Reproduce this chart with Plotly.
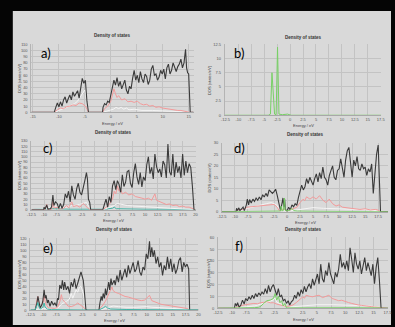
import plotly.graph_objects as go

W, H = 395, 327

# ---------------- data (energy eV, DOS states/eV) ----------------
A_TOTAL = [(-15.3,0),(-10.9,0),(-10.6,8),(-10.3,15),(-10.0,9),(-9.7,17),(-9.4,10),(-9.1,20),(-8.8,25),(-8.5,15),(-8.2,22),(-7.9,28),(-7.6,20),(-7.3,33),(-7.0,26),(-6.7,31),(-6.4,35),(-6.1,23),(-5.8,42),(-5.5,55),(-5.2,47),(-4.9,52),(-4.6,18),(-4.3,0),(-1.6,0),
           (-1.5,8),(-1.2,14),(-0.9,12),(-0.6,18),(-0.3,16),(0.0,28),(0.3,40),(0.6,52),(0.9,44),(1.2,56),(1.5,42),(1.8,50),(2.1,38),(2.4,46),(2.7,52),(3.0,36),(3.3,30),(3.6,42),(3.9,38),(4.2,55),(4.5,68),(4.8,52),(5.1,60),(5.4,48),(5.7,66),(6.0,54),(6.3,48),(6.6,62),(6.9,58),(7.2,45),(7.5,52),(7.8,70),(8.1,76),(8.4,60),(8.7,62),(9.0,52),(9.3,57),(9.6,68),(9.9,62),(10.2,70),(10.5,54),(10.8,72),(11.1,78),(11.4,62),(11.7,68),(12.0,80),(12.3,72),(12.6,66),(12.9,74),(13.2,78),(13.5,86),(13.8,72),(14.1,80),(14.4,102),(14.6,72),(14.8,64),(15.0,62),(15.15,25),(15.3,0),(15.95,0)]
A_RED = [(-15.3,0),(-10.9,0),(-10.3,4),(-9.7,7),(-9.1,6),(-8.5,9),(-7.9,10),(-7.3,12),(-6.7,11),(-6.1,15),(-5.5,14),(-4.9,10),(-4.5,4),(-4.3,0),(-1.6,0),(-1.2,6),(-0.6,10),(0.0,18),(0.3,28),(0.6,38),(0.9,30),(1.2,24),(1.5,27),(2.1,20),(2.7,22),(3.3,17),(3.9,18),(4.5,16),(5.1,18),(5.7,14),(6.3,12),(6.9,13),(7.5,10),(8.1,11),(8.7,8),(9.3,9),(9.9,7),(10.5,6),(11.1,5),(11.7,4.5),(12.3,4),(12.9,3),(13.5,3),(14.1,2),(14.7,2),(15.2,0),(15.95,0)]
A_WHITE = [(-15.3,0),(-10.9,0),(-10.0,3),(-9.0,6),(-8.0,10),(-7.0,14),(-6.4,18),(-5.8,26),(-5.4,32),(-5.0,36),(-4.8,28),(-4.5,10),(-4.3,0),(-1.6,0),(-0.5,3),(0.5,5),(1.0,8),(1.5,6),(2.0,8),(2.5,5),(3.0,7),(3.5,4),(4.5,5),(6.0,3),(8.0,3),(10.0,2),(12.0,2),(14.0,1),(15.2,0),(15.95,0)]

B_GREEN = [(-12.6,0),(-4.2,0),(-3.8,0.2),(-3.5,7.5),(-3.0,0.2),(-2.7,0.1),(-2.43,12),(-2.15,0.2),(-1.5,0.1),(-0.5,0.2),(0.2,0),(17.6,0)]

C_TOTAL = [(-12.5,0),(-10.1,0),(-9.98,5),(-9.8,1),(-9.47,9),(-9.2,1),(-8.7,2),(-8.5,6),(-8.24,28),(-8.05,8),(-7.73,15),(-7.4,12),(-7.08,3),(-6.76,12),(-6.44,3),(-6.11,10),(-5.79,30),(-5.47,22),(-5.15,35),(-4.82,15),(-4.5,45),(-4.18,28),(-3.85,20),(-3.53,40),(-3.21,50),(-2.89,33),(-2.56,28),(-2.24,45),(-1.92,55),(-1.6,70),(-1.4,58),(-1.21,20),(-0.95,14),(-0.76,0),(1.63,0),
           (1.95,10),(2.27,20),(2.6,5),(2.92,25),(3.24,14),(3.56,45),(3.89,55),(4.21,38),(4.53,55),(4.85,48),(5.18,33),(5.5,66),(5.82,44),(6.15,52),(6.47,72),(6.79,74),(7.11,50),(7.44,42),(7.76,70),(8.08,87),(8.4,62),(8.73,48),(9.05,70),(9.37,43),(9.69,62),(10.02,55),(10.34,85),(10.66,100),(10.98,68),(11.31,80),(11.63,58),(11.95,105),(12.27,82),(12.6,70),(12.92,77),(13.24,62),(13.56,92),(13.89,85),(14.21,60),(14.53,124),(14.85,72),(15.18,65),(15.5,105),(15.82,62),(16.15,90),(16.47,70),(16.79,82),(17.11,60),(17.44,105),(17.76,65),(18.08,92),(18.4,70),(18.73,87),(19.05,80),(19.37,45),(19.69,0),(20.0,0)]
C_RED = [(-12.5,0),(-9.8,0),(-9.47,10),(-9.2,0),(-8.5,0),(-8.24,18),(-8.0,3),(-7.4,5),(-7.0,0),(-6.1,3),(-5.5,8),(-5.15,4),(-4.5,15),(-4.2,6),(-3.5,8),(-2.9,5),(-2.24,12),(-1.9,8),(-1.4,4),(-0.8,0),(1.63,0),(2.3,5),(2.9,10),(3.56,20),(3.89,35),(4.21,30),(4.53,45),(4.85,35),(5.18,38),(5.5,30),(6.15,33),(6.79,28),(7.44,30),(8.08,25),(8.73,24),(9.37,22),(10.02,20),(10.66,22),(11.31,18),(11.95,30),(12.27,18),(12.92,15),(13.56,12),(14.21,10),(14.85,11),(15.5,8),(16.15,9),(16.79,6),(17.44,7),(18.08,5),(18.73,5),(19.37,2),(19.69,0),(20.0,0)]
C_WHITE = [(-12.5,0),(-9.5,2),(-8.2,8),(-6.0,4),(-4.5,8),(-3.0,10),(-1.6,14),(-1.2,6),(-0.8,0),(1.6,0),(2.5,3),(3.9,8),(4.5,12),(5.5,10),(6.5,8),(8.0,7),(10.0,6),(12.0,5),(14.0,4),(16.0,3),(18.0,2),(19.6,0),(20.0,0)]
C_TEAL = [(-12.5,0.5),(-9.5,1),(-8.2,2),(-5.0,1),(-1.0,0.5),(2.0,1),(3.6,3),(3.9,5),(4.3,2),(6.0,1.5),(10.0,1),(15.0,0.8),(20.0,0.5)]

D_TOTAL = [(-12.5,0),(-9.8,0),(-9.69,1.5),(-9.5,0.5),(-9.25,1.7),(-9.06,0.5),(-8.75,1.2),(-8.44,2),(-8.2,0.5),(-7.81,3),(-7.625,5.5),(-7.375,3),(-7.19,5.3),(-6.875,3.8),(-6.56,5.5),(-6.25,4.5),(-5.94,6),(-5.625,5),(-5.31,6.4),(-5.0,5.2),(-4.69,7.4),(-4.375,6.4),(-4.06,8),(-3.75,6.7),(-3.44,9.5),(-3.125,8.8),(-2.81,8),(-2.5,8.8),(-2.19,9.8),(-1.875,7),(-1.56,3.5),(-1.25,0.5),(-0.94,4),(-0.78,6),(-0.625,2),(-0.47,5.5),(-0.31,1),(0.0,0.3),
           (0.31,2),(0.625,0.8),(0.94,3),(1.25,2.2),(1.56,3.5),(1.875,2.8),(2.19,6.3),(2.5,8.8),(2.81,11.6),(3.125,9.5),(3.44,10.9),(3.75,14.4),(4.06,12.3),(4.375,15),(4.69,13),(5.0,11.6),(5.31,14.4),(5.625,16.5),(5.94,13),(6.25,17),(6.56,14.4),(6.875,19.4),(7.19,15),(7.5,13.9),(7.81,11.6),(8.125,15.8),(8.44,18),(8.75,20),(9.06,15),(9.375,13.9),(9.69,18),(10.0,18.7),(10.31,23),(10.625,18),(10.94,15),(11.25,22.5),(11.56,26.5),(11.875,28),(12.19,21),(12.5,15),(12.81,22.5),(13.125,20),(13.44,24),(13.75,18.7),(14.06,18),(14.375,20.8),(14.69,18.7),(15.0,19.4),(15.31,15.8),(15.625,18.7),(15.94,17.3),(16.25,20.8),(16.56,8),(16.875,18),(17.19,25),(17.5,29),(17.81,3),(17.95,0),(19.4,0)]
D_RED = [(-12.5,0),(-9.8,0),(-9.5,0.8),(-8.5,1),(-7.6,2),(-6.5,2.2),(-5.5,2.5),(-4.5,2.8),(-3.4,3),(-2.5,3.2),(-1.9,2),(-1.5,0.5),(-0.9,1),(-0.5,1.2),(0.0,0.3),(0.6,0.8),(1.3,1.5),(1.9,2),(2.5,4),(3.1,5.5),(3.4,4.8),(3.75,6.5),(4.4,5.5),(5.0,6.5),(5.6,5.5),(6.25,7),(6.9,5),(7.5,4),(8.1,5.5),(8.75,3.5),(9.4,2.5),(10.0,3),(10.6,2),(11.3,1.8),(12.0,1.5),(13.0,1.2),(14.0,1),(15.0,1.3),(16.0,0.8),(17.0,1),(17.5,0.7),(17.9,0),(19.4,0)]
D_WHITE = [(-12.5,0),(-9.8,0),(-7.6,1.5),(-6.0,2.5),(-4.0,3.5),(-3.0,4),(-2.0,3),(-1.5,1),(-1.0,0.5),(0.0,0.2),(1.5,0.6),(3.0,1.2),(5.0,1.8),(7.0,1.5),(10.0,1.2),(13.0,1),(16.0,0.8),(17.8,0.2),(19.4,0)]
D_GREEN = [(-12.5,0),(-9.8,0),(-9.7,0.2),(-5.0,0.2),(-1.5,0.3),(-1.25,0.3),(-1.125,2.4),(-0.95,0.4),(-0.7,0.6),(-0.5,6),(-0.35,0.8),(-0.2,0.4),(0.5,0.5),(0.9,1.5),(1.3,0.5),(2.0,0.3),(5.0,0.2),(17.8,0.2),(17.9,0),(19.4,0)]

E_TOTAL = [(-12.5,0),(-11.6,0),(-11.24,12),(-11.05,23),(-10.86,15),(-10.61,4),(-10.29,9),(-10.1,15),(-9.85,34),(-9.66,20),(-9.47,25),(-9.22,12),(-9.03,17),(-8.71,6.5),(-8.4,15),(-8.08,9),(-7.77,12),(-7.45,6.5),(-7.26,20),(-7.07,17.5),(-6.82,42),(-6.51,36),(-6.32,50),(-6.06,34),(-5.88,47),(-5.56,34),(-5.24,40),(-4.93,28),(-4.61,47),(-4.3,39),(-3.98,53),(-3.67,36),(-3.35,45),(-3.04,53),(-2.72,64),(-2.53,58),(-2.28,50),(-2.09,34),(-1.77,1),(-1.5,0),(0.75,0),
           (0.94,12),(1.19,23),(1.38,16),(1.57,28),(1.82,20),(2.01,36),(2.2,25),(2.45,42),(2.64,47),(2.83,34),(3.08,53),(3.27,42),(3.46,45),(3.71,50),(3.9,42),(4.22,58),(4.53,47),(4.85,67),(5.17,50),(5.48,61),(5.8,69),(6.11,55),(6.43,75),(6.74,61),(7.06,72),(7.37,80),(7.69,64),(8.0,69),(8.32,83),(8.64,64),(8.95,58),(9.27,72),(9.58,67),(9.9,94),(10.21,86),(10.53,115),(10.72,89),(10.97,105),(11.22,89),(11.47,100),(11.79,78),(12.11,89),(12.42,72),(12.74,80),(13.05,58),(13.37,75),(13.68,67),(14.0,89),(14.31,69),(14.63,86),(14.94,64),(15.26,78),(15.58,61),(15.89,69),(16.21,83),(16.52,88),(16.84,64),(17.15,80),(17.47,72),(17.78,77),(18.1,69),(18.29,0),(20.0,0)]
E_RED = [(-12.5,0),(-11.6,0),(-11.24,17),(-11.05,23),(-10.86,10),(-10.61,4),(-10.1,12),(-9.85,24),(-9.66,15),(-9.47,10),(-9.03,4),(-8.4,4),(-7.77,3),(-7.26,5),(-7.07,9),(-6.82,14),(-6.51,26),(-6.32,18),(-5.88,14),(-5.24,7),(-4.61,6),(-3.98,8),(-3.35,12),(-3.04,10),(-2.72,9),(-2.28,6),(-2.09,4),(-1.77,0),(0.75,0),(1.0,4),(1.38,7),(2.01,15),(2.64,28),(3.08,35),(3.27,39),(3.46,33),(3.9,30),(4.53,28),(5.17,25),(5.8,23),(6.43,22),(7.06,20),(7.69,18),(8.32,17),(8.95,16),(9.58,17),(10.21,22),(10.53,25),(10.97,16),(11.47,14),(12.11,12),(12.74,10),(13.37,9),(14.0,8),(14.63,7),(15.26,6),(15.89,5),(16.52,4),(17.15,4),(17.78,3),(18.29,0),(20.0,0)]
E_TEAL = [(-12.5,0.5),(-11.6,0.5),(-11.24,8),(-11.05,13),(-10.86,6),(-10.61,2),(-10.1,5),(-9.85,12),(-9.66,5),(-9.22,2),(-8.4,1),(-7.5,0.8),(-6.5,1.5),(-5.5,1),(-4.0,1),(-2.0,0.8),(-1.7,0.3),(0.75,0.3),(1.2,2),(1.6,4),(2.0,6.5),(2.4,4),(3.0,2),(4.0,1.5),(6.0,1.2),(9.0,1),(12.0,0.8),(15.0,0.6),(18.0,0.5),(20.0,0.5)]
E_WHITE = [(-12.5,0),(-11.6,0),(-11.0,2),(-10.0,3),(-9.0,3),(-8.0,2),(-7.0,5),(-6.5,10),(-6.0,12),(-5.5,15),(-5.0,18),(-4.6,28),(-4.3,20),(-3.67,34),(-3.35,30),(-3.04,38),(-2.72,40),(-2.4,32),(-2.1,20),(-1.77,0),(0.75,0),(1.5,2),(2.5,5),(3.5,7),(4.5,6),(6.0,5),(8.0,5),(10.0,6),(11.0,5),(13.0,4),(15.0,3),(17.0,2),(18.29,0),(20.0,0)]

F_TOTAL = [(-12.5,0),(-9.61,0),(-9.44,4.1),(-9.21,1.9),(-9.04,4.7),(-8.75,0.8),(-8.46,2.8),(-8.17,6.9),(-7.88,3.6),(-7.6,8.3),(-7.31,6.4),(-7.02,9.7),(-6.73,7.5),(-6.44,11),(-6.15,8.3),(-5.86,12.4),(-5.58,9.7),(-5.29,13),(-5.0,11),(-4.71,13.8),(-4.42,11.9),(-4.13,16.6),(-3.84,12.4),(-3.56,19.3),(-3.27,13.8),(-2.98,18),(-2.69,20),(-2.4,15.2),(-2.11,11),(-1.82,16.6),(-1.54,9.7),(-1.25,11),(-0.96,6.4),(-0.67,7.5),(-0.38,4.1),(-0.09,6.4),(0.19,2.8),(0.48,5.5),(0.77,6.9),
           (1.06,11),(1.35,8.3),(1.64,13.8),(1.93,10.2),(2.21,15.8),(2.5,12.4),(2.79,18.5),(3.08,13.8),(3.37,18),(3.66,20.7),(3.95,16.6),(4.23,24.9),(4.52,19.3),(4.81,23.5),(5.1,29),(5.39,20.7),(5.68,37.3),(5.97,24.9),(6.25,22.1),(6.54,31.8),(6.83,27.6),(7.12,38.7),(7.41,29),(7.7,24.9),(7.99,20.7),(8.27,30.4),(8.56,26.3),(8.85,33.2),(9.14,45.6),(9.43,34.6),(9.72,38.7),(10.0,33.2),(10.29,40.1),(10.58,31.8),(10.87,51.1),(11.16,41.5),(11.45,30.4),(11.74,46.9),(12.02,37.3),(12.31,33.2),(12.6,40.1),(12.89,29),(13.18,35.9),(13.47,42.9),(13.76,31.8),(14.04,38.7),(14.33,33.2),(14.62,27.6),(14.91,37.3),(15.2,20.7),(15.49,34.6),(15.78,42.9),(16.07,23.5),(16.36,0),(17.6,0)]
F_RED = [(-12.5,0),(-9.61,0),(-9.04,1.4),(-8.5,2.2),(-7.88,2.8),(-7.0,3.5),(-6.15,4.1),(-5.5,3.8),(-5.0,4.7),(-4.4,5),(-3.84,5.5),(-3.2,4.6),(-2.69,4.7),(-2.1,3.5),(-1.54,2.8),(-0.9,2),(-0.38,1.4),(0.2,2),(0.77,2.8),(1.4,5),(1.93,6.9),(2.5,9.7),(2.8,8.5),(3.08,11),(3.66,10.2),(4.23,9.7),(4.8,10.5),(5.39,11),(6.0,9),(6.54,9.7),(7.12,11),(7.7,8.3),(8.3,7.5),(8.85,6.4),(9.4,6.8),(10.0,5.5),(10.6,4.8),(11.16,4.1),(11.7,3.2),(12.31,2.8),(12.9,2.4),(13.47,1.9),(14.0,1.7),(14.62,1.4),(15.2,1.1),(15.78,0.8),(16.36,0),(17.6,0)]
F_WHITE = [(-12.5,0),(-9.61,0),(-8.0,1),(-6.0,2),(-4.5,4),(-3.5,6),(-2.7,7),(-2.4,9),(-2.1,5),(-1.5,4),(-1.0,2),(0.0,1),(1.0,1.5),(3.0,2.5),(5.0,3),(8.0,3),(11.0,2.5),(14.0,2),(16.0,1),(16.36,0),(17.6,0)]
F_GREEN = [(-12.5,0),(-9.61,0),(-9.5,0.3),(-6.0,0.5),(-5.3,0.8),(-5.0,1.4),(-4.42,4.1),(-3.84,6.4),(-3.27,6.9),(-2.69,8.3),(-2.4,12.4),(-2.11,6.9),(-1.82,10.2),(-1.54,4.7),(-1.25,6.4),(-0.96,1.9),(-0.67,4.1),(-0.38,0.3),(2.0,0.3),(5.0,0.5),(10.0,0.4),(16.0,0.3),(16.36,0),(17.6,0)]

X_TICKS_A = [-15, -10, -5, 0, 5, 10, 15]
X_TICKS_STD = [-12.5, -10, -7.5, -5, -2.5, 0, 2.5, 5, 7.5, 10, 12.5, 15, 17.5]
X_TICKS_LONG = X_TICKS_STD + [20]
Y_TICKS_A = [0, 10, 20, 30, 40, 50, 60, 70, 80, 90, 100, 110]
Y_TICKS_B = [0, 2.5, 5, 7.5, 10, 12.5]
Y_TICKS_C = [0, 10, 20, 30, 40, 50, 60, 70, 80, 90, 100, 110, 120, 130]
Y_TICKS_D = [0, 5, 10, 15, 20, 25, 30]
Y_TICKS_E = [0, 10, 20, 30, 40, 50, 60, 70, 80, 90, 100, 110, 120]
Y_TICKS_F = [0, 10, 20, 30, 40, 50, 60]

COL_TOTAL = "#3a3a3a"
COL_RED = "#f29a9a"
COL_WHITE = "#f4f4f4"
COL_TEAL = "#3fb3a6"
COL_GREEN = "#78d066"
BG = "#d9d9d9"
GRID = "#c3c3c3"

# panel layout in pixels: plot box (left, right, top, bottom)
PANELS = [
    dict(label="a)", box=(27, 193, 42, 111), xr=[-15.3, 15.95], xt=X_TICKS_A, yr=[0, 110], yt=Y_TICKS_A,
         series=[(A_WHITE, COL_WHITE), (A_RED, COL_RED), (A_TOTAL, COL_TOTAL)], title_y=33, xtitle_y=122, ytitle_x=15),
    dict(label="b)", box=(225, 385, 42, 114), xr=[-12.6, 17.6], xt=X_TICKS_STD, yr=[0, 12.5], yt=Y_TICKS_B,
         series=[(B_GREEN, COL_GREEN)], title_y=35, xtitle_y=124.5, ytitle_x=210),
    dict(label="c)", box=(27, 195, 140, 210), xr=[-12.5, 20.0], xt=X_TICKS_LONG, yr=[0, 130], yt=Y_TICKS_C,
         series=[(C_TEAL, COL_TEAL), (C_WHITE, COL_WHITE), (C_RED, COL_RED), (C_TOTAL, COL_TOTAL)], title_y=132, xtitle_y=220.5, ytitle_x=15),
    dict(label="d)", box=(222, 392, 142, 212), xr=[-12.5, 19.4], xt=X_TICKS_STD, yr=[0, 30], yt=Y_TICKS_D,
         series=[(D_WHITE, COL_WHITE), (D_RED, COL_RED), (D_TOTAL, COL_TOTAL), (D_GREEN, COL_GREEN)], title_y=134, xtitle_y=222.5, ytitle_x=209),
    dict(label="e)", box=(26, 198, 239, 312), xr=[-12.5, 20.0], xt=X_TICKS_LONG, yr=[0, 120], yt=Y_TICKS_E,
         series=[(E_WHITE, COL_WHITE), (E_RED, COL_RED), (E_TOTAL, COL_TOTAL), (E_TEAL, COL_TEAL)], title_y=230, xtitle_y=322.5, ytitle_x=15),
    dict(label="f)", box=(218, 392, 238, 310), xr=[-12.5, 17.6], xt=X_TICKS_STD, yr=[0, 60], yt=Y_TICKS_F,
         series=[(F_WHITE, COL_WHITE), (F_RED, COL_RED), (F_TOTAL, COL_TOTAL), (F_GREEN, COL_GREEN)], title_y=230, xtitle_y=321.5, ytitle_x=209),
]

LETTER_POS = [(35, 51), (232, 51), (37, 147), (232, 147), (37, 249), (233, 247)]

fig = go.Figure()
layout = dict(
    width=W, height=H, autosize=False,
    margin=dict(l=0, r=0, t=0, b=0, pad=0),
    paper_bgcolor="#050505", plot_bgcolor=BG,
    showlegend=False,
    font=dict(family="Liberation Sans, Arial, sans-serif", color="#444"),
    shapes=[dict(type="rect", xref="paper", yref="paper", x0=8 / W, x1=1, y0=0, y1=1 - 8 / H,
                 fillcolor=BG, line=dict(width=0), layer="below")],
    annotations=[],
)

def fmt(v):
    return "%g" % v

def note(text, xpx, ypx, size, color, xanchor="center", angle=0, family=None):
    f = dict(size=size, color=color)
    if family:
        f["family"] = family
    layout["annotations"].append(dict(text=text, x=xpx / W, y=1 - ypx / H, xref="paper", yref="paper",
                                      xanchor=xanchor, yanchor="middle", showarrow=False,
                                      textangle=angle, font=f))

for i, p in enumerate(PANELS):
    n = i + 1
    xa = "xaxis" if n == 1 else f"xaxis{n}"
    ya = "yaxis" if n == 1 else f"yaxis{n}"
    xref = "x" if n == 1 else f"x{n}"
    yref = "y" if n == 1 else f"y{n}"
    l, r, t, b = p["box"]
    layout[xa] = dict(domain=[l / W, r / W], anchor=yref, range=p["xr"], tickvals=p["xt"],
                      ticktext=[fmt(v) for v in p["xt"]], showgrid=True, gridcolor=GRID, gridwidth=1,
                      zeroline=False, showline=True, linecolor="#a8a8a8", linewidth=1, ticks="",
                      tickfont=dict(size=4, color="#555"), ticklabelstandoff=0, tickangle=0, fixedrange=True)
    layout[ya] = dict(domain=[1 - b / H, 1 - t / H], anchor=xref, range=p["yr"], tickvals=p["yt"],
                      ticktext=[fmt(v) for v in p["yt"]], showgrid=True, gridcolor=GRID, gridwidth=1,
                      zeroline=False, showline=True, linecolor="#b4b4b4", linewidth=1, ticks="",
                      tickfont=dict(size=4, color="#555"), ticklabelstandoff=2, fixedrange=True)
    for data, col in p["series"]:
        xs = [d[0] for d in data]
        ys = [d[1] for d in data]
        fig.add_trace(go.Scatter(x=xs, y=ys, mode="lines", xaxis=xref, yaxis=yref,
                                 line=dict(color=col, width=1.1 if col == COL_TOTAL else 1),
                                 hoverinfo="skip"))
    cx = (l + r) / 2
    note("<b>Density of states</b>", cx, p["title_y"], 4.5, "#333")
    note("Energy / eV", cx, p["xtitle_y"], 4, "#444")
    note("DOS (states/eV)", p["ytitle_x"], (t + b) / 2, 4, "#444", angle=-90)
    lx, ly = LETTER_POS[i]
    note(p["label"], lx, ly, 13, "#000", xanchor="left", family="Lato, Open Sans, sans-serif")

fig.update_layout(**layout)
fig.write_html("out.html", config={"displayModeBar": False, "staticPlot": True},
               post_script="document.body.style.margin='0';document.body.style.overflow='hidden';document.body.style.background='#050505';")
